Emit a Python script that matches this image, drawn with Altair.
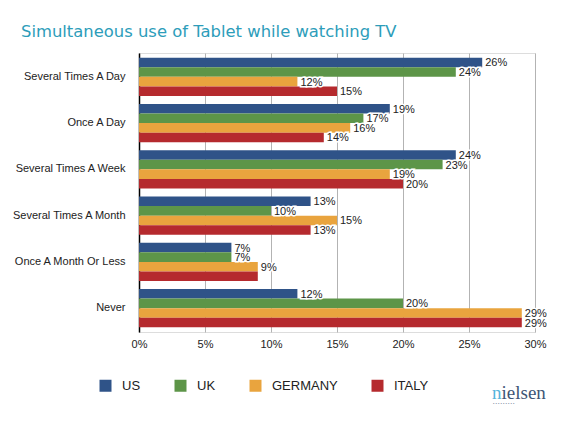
import altair as alt
import pandas as pd

categories = ["Several Times A Day", "Once A Day", "Several Times A Week",
              "Several Times A Month", "Once A Month Or Less", "Never"]
countries = ["US", "UK", "GERMANY", "ITALY"]
us = [26, 19, 24, 13, 7, 12]
uk = [24, 17, 23, 10, 7, 20]
germany = [12, 16, 19, 15, 9, 29]
italy = [15, 14, 20, 13, 9, 29]
colors = ["#2f5388", "#5d9548", "#e9a43e", "#b52a2e"]
unlabeled = [("ITALY", "Once A Month Or Less")]
x_ticks = [0, 5, 10, 15, 20, 25, 30]

rows = []
for country, vals in zip(countries, [us, uk, germany, italy]):
    for cat, v in zip(categories, vals):
        rows.append({"category": cat, "country": country, "value": v,
                     "label": "" if (country, cat) in unlabeled else f"{v}%"})
df = pd.DataFrame(rows)

W, H = 396, 279
FONT = "Liberation Sans"

x = alt.X("value:Q", title=None,
          scale=alt.Scale(domain=[0, 30], nice=False, zero=True),
          axis=alt.Axis(values=x_ticks, labelExpr="datum.value + '%'", grid=True,
                        gridColor="#b3b3b3", gridWidth=1, domain=False, ticks=False,
                        labelFlush=False,
                        labelFont=FONT, labelFontSize=11, labelColor="#222",
                        labelPadding=6))
y = alt.Y("category:N", sort=categories, title=None,
          scale=alt.Scale(paddingInner=0.17, paddingOuter=0.1),
          axis=alt.Axis(labelFont=FONT, labelFontSize=11, labelColor="#222",
                        labelPadding=14, ticks=False, domainColor="#000",
                        domainWidth=1.5, grid=False))
yoff = alt.YOffset("country:N", sort=countries,
                   scale=alt.Scale(paddingInner=0, paddingOuter=0))

base = alt.Chart(df).encode(x=x, y=y, yOffset=yoff)

bars = base.mark_bar(opacity=1, strokeWidth=0).encode(
    color=alt.Color("country:N", sort=countries,
                    scale=alt.Scale(domain=countries, range=colors),
                    legend=alt.Legend(title=None, orient="none", legendX=-40, legendY=326,
                                      direction="horizontal", symbolType="square",
                                      symbolSize=144, symbolStrokeWidth=0,
                                      symbolOpacity=1, labelOffset=10,
                                      columnPadding=33, labelFont=FONT,
                                      labelFontSize=13, labelColor="#222"))
)

halo = base.mark_text(align="left", baseline="middle", dx=3, dy=1, font=FONT,
                      fontSize=11, stroke="white", strokeWidth=3, fill="white").encode(
    text="label:N")
labels = base.mark_text(align="left", baseline="middle", dx=3, dy=1, font=FONT,
                        fontSize=11, color="#222").encode(text="label:N")

logo_n = alt.Chart(pd.DataFrame({"t": ["n"]})).mark_text(
    align="left", baseline="alphabetic", font="Liberation Serif", fontSize=19,
    color="#55b4dc").encode(x=alt.value(353), y=alt.value(346), text="t:N")
logo_rest = alt.Chart(pd.DataFrame({"t": ["ielsen"]})).mark_text(
    align="left", baseline="alphabetic", font="Liberation Serif", fontSize=19,
    color="#3e5676").encode(x=alt.value(362.5), y=alt.value(346), text="t:N")
logo_dots = alt.Chart(pd.DataFrame({"t": ["• • • • • • • • •"]})).mark_text(
    align="left", baseline="middle", font=FONT, fontSize=4,
    color="#7a8aa0").encode(x=alt.value(354), y=alt.value(351), text="t:N")

chart = alt.layer(bars, halo, labels, logo_n, logo_rest, logo_dots).properties(
    width=W, height=H,
    title=alt.TitleParams(text="Simultaneous use of Tablet while watching TV",
                          anchor="start", frame="group", dx=-118, dy=16, offset=16,
                          baseline="alphabetic", font="DejaVu Sans", fontSize=16.4,
                          fontWeight="normal", color="#2d9dba"),
    autosize=alt.AutoSizeParams(type="none"),
    padding={"left": 131, "top": 45, "right": 28, "bottom": 83},
).configure_view(stroke=None).configure(background="white")

chart.save("out.html", embed_options={"renderer": "svg", "actions": False})
